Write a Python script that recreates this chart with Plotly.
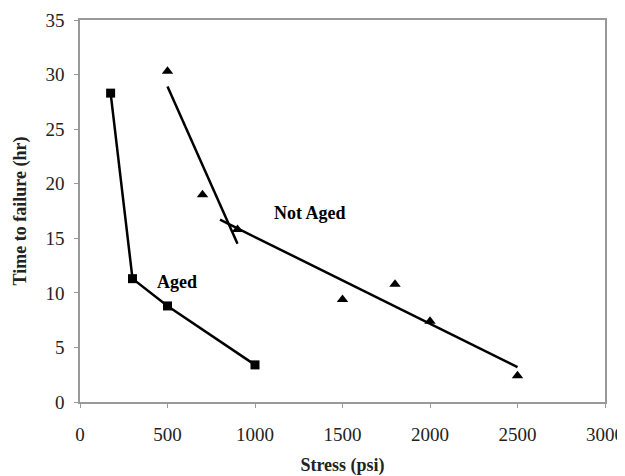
import plotly.graph_objects as go

# Aged specimens (squares)
aged_stress = [175, 300, 500, 1000]
aged_time = [28.3, 11.3, 8.8, 3.4]

# Not aged specimens (triangles)
notaged_stress = [500, 700, 900, 1500, 1800, 2000, 2500]
notaged_time = [30.3, 19.0, 15.8, 9.4, 10.8, 7.4, 2.4]

# Trend lines for Not Aged
trend1_stress = [500, 900]
trend1_time = [28.9, 14.5]
trend2_stress = [800, 2500]
trend2_time = [16.7, 3.2]

xticks = [0, 500, 1000, 1500, 2000, 2500, 3000]
yticks = [0, 5, 10, 15, 20, 25, 30, 35]

FONT = "Liberation Serif, Times New Roman, serif"

fig = go.Figure()
fig.add_trace(go.Scatter(x=aged_stress, y=aged_time, mode="lines+markers",
                         line=dict(color="black", width=2.5),
                         marker=dict(symbol="square", size=9, color="black"),
                         showlegend=False))
fig.add_trace(go.Scatter(x=trend1_stress, y=trend1_time, mode="lines",
                         line=dict(color="black", width=2.5), showlegend=False))
fig.add_trace(go.Scatter(x=trend2_stress, y=trend2_time, mode="lines",
                         line=dict(color="black", width=2.5), showlegend=False))
fig.add_trace(go.Scatter(x=notaged_stress, y=notaged_time, mode="markers",
                         marker=dict(symbol="triangle-up", size=10, color="black"),
                         showlegend=False))

fig.add_annotation(x=1317, y=17.3, text="<b>Not Aged</b>", showarrow=False,
                   font=dict(family=FONT, size=18, color="black"))
fig.add_annotation(x=557, y=11.0, text="<b>Aged</b>", showarrow=False,
                   font=dict(family=FONT, size=18, color="black"))

axis_common = dict(showgrid=False, zeroline=False, showline=True, linecolor="#999999",
                   linewidth=1.5, mirror=True, ticks="outside", ticklen=4, automargin=False,
                   tickcolor="#999999", tickfont=dict(family=FONT, size=19, color="#222222"))

fig.update_xaxes(range=[0, 3000], tickvals=xticks, ticklabelstandoff=10,
                 title=dict(text="<b>Stress (psi)</b>", font=dict(family=FONT, size=18, color="#222222"),
                            standoff=16),
                 **axis_common)
fig.update_yaxes(range=[0, 35], tickvals=yticks, ticklabelstandoff=6,
                 title=dict(text="<b>Time to failure (hr)</b>", font=dict(family=FONT, size=18, color="#222222"),
                            standoff=14),
                 **axis_common)

# page body has an 8px margin, so the figure is offset by 8px
fig.update_layout(width=617, height=468, margin=dict(l=72, r=20, t=12, b=74),
                  plot_bgcolor="white", paper_bgcolor="white")

fig.write_html("out.html")
